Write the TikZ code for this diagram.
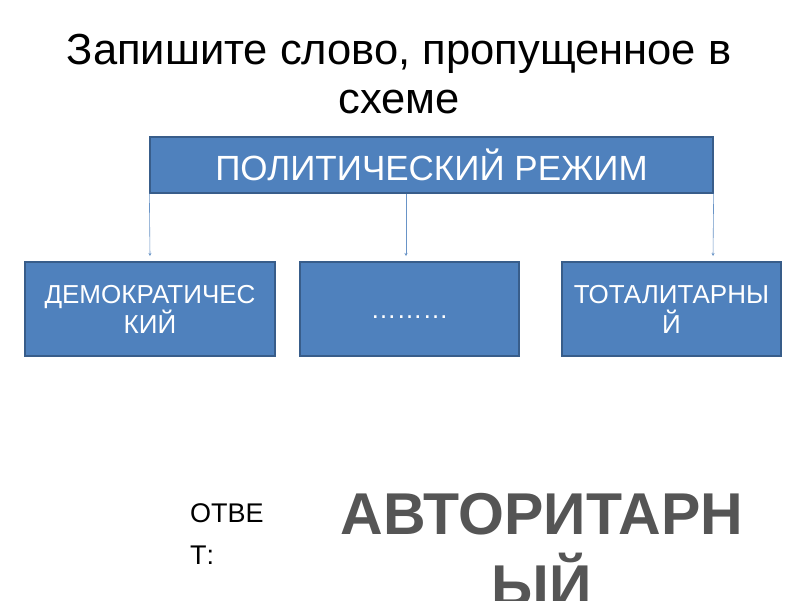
\documentclass[tikz,border=0pt]{standalone}
\usepackage{fontspec}
\setmainfont{Liberation Sans}
\usetikzlibrary{arrows.meta}
\definecolor{boxfill}{HTML}{4F81BD}
\definecolor{boxline}{HTML}{385D8A}
\definecolor{answergray}{HTML}{555555}
\begin{document}
\begin{tikzpicture}[x=1pt,y=-1pt,
  blockbox/.style={draw=boxline,line width=1.3pt,fill=boxfill,text=white,align=center,inner sep=0pt},
  boxtext/.style={font=\fontsize{26}{30}\selectfont},
  link/.style={draw=boxfill!85,line width=0.6pt,-{Stealth[length=3pt,width=3pt]}}]
\useasboundingbox (0,0) rectangle (800,600);
\fill[white] (0,0) rectangle (800,600);
\node[anchor=base,inner sep=0pt,font=\fontsize{43.5}{49}\selectfont] (t1) at (399,64) {Запишите слово, пропущенное в};
\node[anchor=base,inner sep=0pt,font=\fontsize{43.5}{49}\selectfont] (t2) at (399,113) {схеме};
\node[blockbox,minimum width=563pt,minimum height=56pt,font=\fontsize{35}{40}\selectfont] (top) at (431.5,165) {ПОЛИТИЧЕСКИЙ РЕЖИМ};
\node[blockbox,boxtext,minimum width=250pt,minimum height=94pt] (b1) at (150,309) {ДЕМОКРАТИЧЕС\\КИЙ};
\node[blockbox,boxtext,minimum width=219pt,minimum height=94pt] (b2) at (409.5,309) {\vphantom{ДЙ}………};
\node[blockbox,boxtext,minimum width=219pt,minimum height=94pt] (b3) at (671.5,309) {ТОТАЛИТАРНЫ\\Й};
\coordinate (e1) at (150,256);
\coordinate (e2) at (406,256);
\coordinate (e3) at (713,256);
\draw[link] (top.south west) -- (e1);
\draw[link] (top.south -| e2) -- (e2);
\draw[link] (top.south east) -- (e3);
\node[anchor=north west,align=left,inner sep=0pt,font=\fontsize{27}{42}\selectfont] (ans) at (190,503) {ОТВЕ\\Т:};
\node[anchor=north,align=center,inner sep=0pt,text=answergray,font=\fontsize{59}{72}\selectfont\bfseries] (word) at (542,493) {АВТОРИТАРН\\ЫЙ};
\end{tikzpicture}
\end{document}
